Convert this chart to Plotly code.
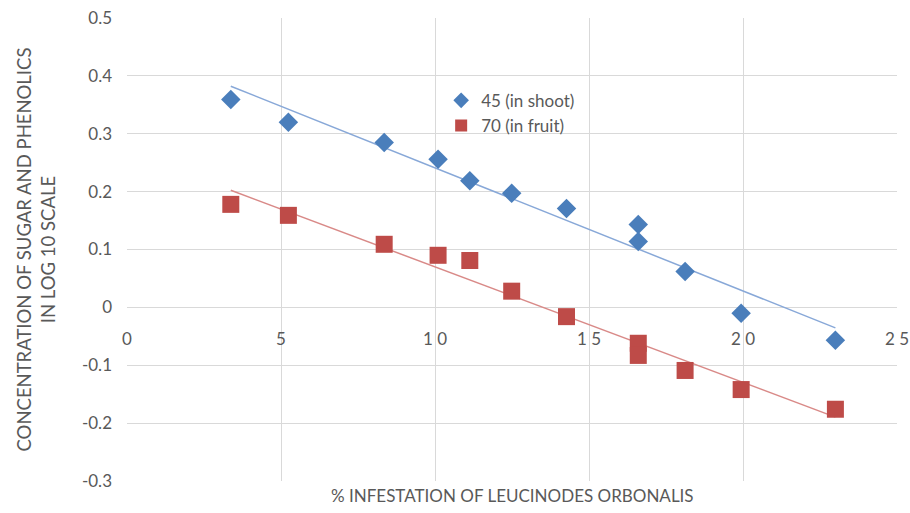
import numpy as np
import plotly.graph_objects as go

infestation = [3.37, 5.24, 8.35, 10.1, 11.13, 12.49, 14.27, 16.6, 16.6, 18.12, 19.94, 23.0]
shoot_45 = [0.359, 0.320, 0.285, 0.256, 0.219, 0.197, 0.171, 0.143, 0.114, 0.062, -0.010, -0.057]
fruit_70 = [0.178, 0.159, 0.109, 0.090, 0.081, 0.028, -0.016, -0.062, -0.083, -0.109, -0.142, -0.176]

x_ticks = [0, 5, 10, 15, 20, 25]
x_tick_text = ["0", "5", "1 0", "1 5", "2 0", "2 5"]
y_ticks = [0.5, 0.4, 0.3, 0.2, 0.1, 0, -0.1, -0.2, -0.3]
y_tick_text = ["0.5", "0.4", "0.3", "0.2", "0.1", "0", "-0.1", "-0.2", "-0.3"]

blue = "#4A7EBB"
red = "#BE4B48"
blue_line = "#88A8D8"
red_line = "#D98A88"
grey = "#595959"

x = np.array(infestation)
xl = np.array([x.min(), x.max()])
pb = np.polyfit(x, shoot_45, 1)
pr = np.polyfit(x, fruit_70, 1)

fig = go.Figure()
fig.add_trace(go.Scatter(x=xl, y=np.polyval(pb, xl), mode="lines",
                         line=dict(color=blue_line, width=1.5), showlegend=False, hoverinfo="skip"))
fig.add_trace(go.Scatter(x=xl, y=np.polyval(pr, xl), mode="lines",
                         line=dict(color=red_line, width=1.5), showlegend=False, hoverinfo="skip"))
fig.add_trace(go.Scatter(x=infestation, y=shoot_45, mode="markers", name="45 (in shoot)",
                         marker=dict(symbol="diamond", color=blue, size=15)))
fig.add_trace(go.Scatter(x=infestation, y=fruit_70, mode="markers", name="70 (in fruit)",
                         marker=dict(symbol="square", color=red, size=17)))

fig.update_layout(
    width=910, height=513,
    margin=dict(l=127, r=13, t=18, b=32, autoexpand=False),
    paper_bgcolor="white", plot_bgcolor="white",
    font=dict(family="Lato", color=grey),
    legend=dict(x=0.408, y=0.86, xanchor="left", yanchor="top",
                font=dict(size=17, color=grey), bgcolor="rgba(0,0,0,0)",
                itemsizing="constant", tracegroupgap=0),
    xaxis=dict(range=[0, 25], tickvals=x_ticks, ticktext=x_tick_text,
               showgrid=True, gridcolor="#D9D9D9", gridwidth=1,
               zeroline=False, showline=False, ticks="",
               anchor="free", position=0.375, automargin=False,
               ticklabelstandoff=20, ticklabeloverflow="allow",
               tickfont=dict(size=17, color=grey)),
    yaxis=dict(range=[-0.3, 0.5], tickvals=y_ticks, ticktext=y_tick_text,
               showgrid=True, gridcolor="#D9D9D9", gridwidth=1,
               zeroline=False, showline=False, ticks="", automargin=False,
               ticklabelstandoff=14, ticklabeloverflow="allow",
               tickfont=dict(size=17, color=grey)),
    annotations=[
        dict(text="% INFESTATION OF LEUCINODES ORBONALIS", xref="paper", yref="paper",
             x=0.5, y=0, yshift=-2, yanchor="top", showarrow=False,
             font=dict(size=17, color=grey, family="Lato")),
        dict(text="CONCENTRATION OF SUGAR AND PHENOLICS<br>IN LOG 10 SCALE",
             xref="paper", yref="paper", x=0, xshift=-117, y=0.5, textangle=-90,
             showarrow=False, font=dict(size=18.5, color=grey, family="Lato")),
    ],
)

fig.write_html(
    "out.html",
    config={"displayModeBar": False},
    post_script="document.body.style.margin='0';document.documentElement.style.overflow='hidden';document.body.style.overflow='hidden';",
)
